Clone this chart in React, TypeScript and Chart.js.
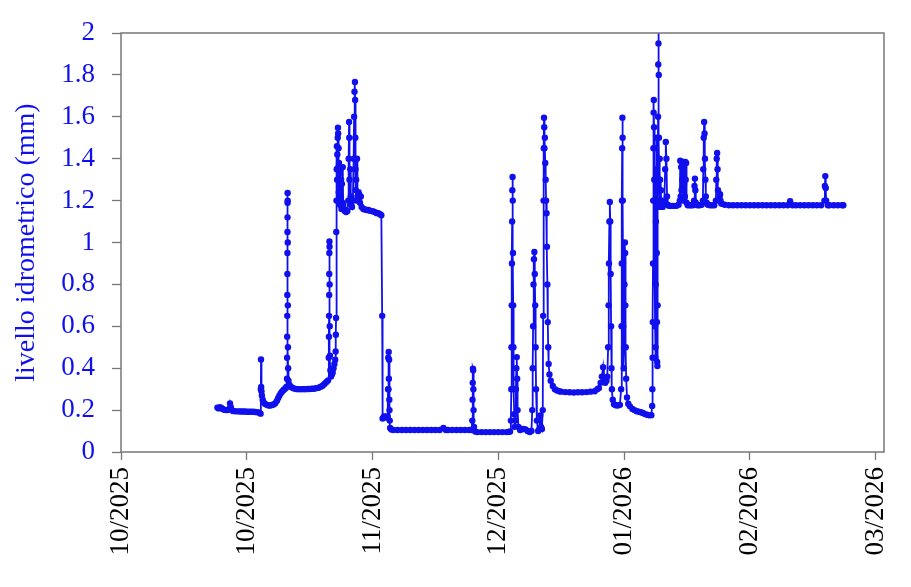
import { Chart, registerables } from "chart.js"
import React, { useEffect, useRef } from "react"

Chart.register(...registerables)

// days counted from 1 Oct 2025
const tickDays = [0, 30, 60, 90, 120, 150, 180]
const tickLabels = ["10/2025", "10/2025", "11/2025", "12/2025", "01/2026", "02/2026", "03/2026"]
const levelTicks = [0, 0.2, 0.4, 0.6, 0.8, 1, 1.2, 1.4, 1.6, 1.8, 2]

// [day, livello mm]
const octoberReadings: [number, number][] = [
  [23.0, 0.212], [23.3, 0.208], [23.6, 0.214], [23.9, 0.21], [24.2, 0.207], [24.6, 0.202],
  [25.0, 0.2], [25.4, 0.2], [25.8, 0.206], [26.0, 0.232], [26.2, 0.214], [26.5, 0.198],
  [27.0, 0.195], [27.5, 0.194], [28.0, 0.194], [28.5, 0.193], [29.0, 0.193], [29.5, 0.193],
  [30.0, 0.192], [30.5, 0.192],
]

const novemberReadings: [number, number][] = [
  [31.0, 0.192], [31.5, 0.192], [32.0, 0.191], [32.5, 0.19], [33.0, 0.188], [33.3, 0.183],
  [33.36, 0.3], [33.4, 0.442], [33.44, 0.31], [33.5, 0.29], [33.6, 0.27], [33.8, 0.25],
  [34.0, 0.238], [34.4, 0.229], [34.8, 0.225], [35.2, 0.222], [35.6, 0.222], [36.0, 0.224],
  [36.4, 0.227], [36.8, 0.233], [37.2, 0.245], [37.5, 0.258], [37.8, 0.27], [38.1, 0.28],
  [38.4, 0.288], [38.7, 0.295], [39.0, 0.3], [39.3, 0.306], [39.5, 0.312], [39.6, 0.35],
  [39.62, 0.45], [39.64, 0.55], [39.66, 0.65], [39.68, 0.75], [39.69, 0.85], [39.7, 0.95],
  [39.71, 1.05], [39.72, 1.12], [39.73, 1.19], [39.74, 1.236], [39.76, 1.2], [39.78, 1.0],
  [39.8, 0.7], [39.83, 0.5], [39.87, 0.4], [39.95, 0.34], [40.2, 0.32], [40.6, 0.31],
  [41.0, 0.305], [41.5, 0.302], [42.0, 0.3], [42.5, 0.3], [43.0, 0.3], [43.5, 0.3],
  [44.0, 0.3], [44.5, 0.301], [45.0, 0.301], [45.5, 0.302], [46.0, 0.302], [46.5, 0.304],
  [47.0, 0.306], [47.5, 0.31], [48.0, 0.315], [48.4, 0.322], [48.8, 0.33], [49.1, 0.336],
  [49.4, 0.342], [49.55, 0.45], [49.6, 0.55], [49.63, 0.65], [49.66, 0.75], [49.68, 0.85],
  [49.7, 0.95], [49.72, 1.005], [49.74, 0.98], [49.77, 0.8], [49.8, 0.6], [49.85, 0.46],
  [49.95, 0.39], [50.1, 0.36], [50.3, 0.37], [50.5, 0.38], [50.7, 0.4], [50.9, 0.42],
  [51.1, 0.44], [51.2, 0.48], [51.25, 0.56], [51.3, 0.64], [51.35, 1.05], [51.4, 1.2],
  [51.45, 1.35], [51.5, 1.46], [51.55, 1.3], [51.6, 1.42], [51.65, 1.2], [51.7, 1.5],
  [51.75, 1.548], [51.8, 1.52], [51.85, 1.36], [51.9, 1.45], [51.95, 1.24], [52.0, 1.38],
  [52.05, 1.2], [52.1, 1.33], [52.2, 1.18], [52.3, 1.35], [52.4, 1.21], [52.5, 1.3],
  [52.6, 1.16], [52.7, 1.28], [52.8, 1.19], [52.9, 1.36], [53.0, 1.18], [53.2, 1.16],
  [53.4, 1.15], [53.7, 1.145], [54.0, 1.15], [54.2, 1.2], [54.3, 1.4], [54.4, 1.575],
  [54.45, 1.5], [54.5, 1.3], [54.6, 1.2], [54.7, 1.35], [54.8, 1.22], [54.9, 1.18],
  [55.1, 1.17], [55.3, 1.2], [55.5, 1.4], [55.6, 1.6], [55.7, 1.72], [55.8, 1.766],
  [55.85, 1.68], [55.9, 1.5], [55.95, 1.35], [56.0, 1.25], [56.1, 1.3], [56.2, 1.2],
  [56.3, 1.4], [56.4, 1.22], [56.6, 1.24], [56.8, 1.23], [57.0, 1.19], [57.2, 1.22],
  [57.4, 1.17], [57.8, 1.16], [58.2, 1.158], [58.6, 1.155], [59.0, 1.155], [59.4, 1.152],
  [59.8, 1.15], [60.2, 1.148], [60.6, 1.145],
]

const decemberReadings: [number, number][] = [
  [61.0, 1.14], [61.4, 1.14], [61.8, 1.135], [62.1, 1.13], [62.3, 0.65], [62.4, 0.16],
  [62.6, 0.165], [62.8, 0.17], [63.0, 0.168], [63.3, 0.165], [63.6, 0.17], [63.7, 0.3],
  [63.75, 0.45], [63.8, 0.3], [63.85, 0.477], [63.9, 0.35], [63.95, 0.44], [64.0, 0.25],
  [64.05, 0.2], [64.1, 0.15], [64.2, 0.115], [64.5, 0.107], [65, 0.105], [66, 0.105],
  [67, 0.105], [68, 0.105], [69, 0.105], [70, 0.105], [71, 0.105], [72, 0.105],
  [73, 0.105], [74, 0.105], [75, 0.105], [76, 0.105], [76.9, 0.115], [77.5, 0.105],
  [78, 0.105], [79, 0.105], [80, 0.105], [81, 0.105], [82, 0.105], [83, 0.105],
  [83.6, 0.105], [83.8, 0.15], [83.85, 0.25], [83.9, 0.33], [83.95, 0.398], [84.0, 0.39],
  [84.05, 0.3], [84.1, 0.2], [84.2, 0.12], [84.5, 0.098], [85, 0.095], [86, 0.095],
  [87, 0.095], [88, 0.095], [89, 0.095], [90, 0.095], [91, 0.095],
]

const januaryReadings: [number, number][] = [
  [92.0, 0.095], [92.5, 0.096], [92.8, 0.098], [93.0, 0.15], [93.1, 0.3], [93.15, 0.5],
  [93.2, 0.7], [93.25, 0.9], [93.3, 1.1], [93.35, 1.25], [93.4, 1.313], [93.45, 1.2],
  [93.5, 0.95], [93.55, 0.7], [93.6, 0.5], [93.7, 0.3], [93.8, 0.18], [93.9, 0.12],
  [94.1, 0.15], [94.2, 0.3], [94.3, 0.4], [94.4, 0.453], [94.5, 0.35], [94.6, 0.2],
  [94.8, 0.12], [95.2, 0.105], [95.6, 0.11], [96.0, 0.11], [96.5, 0.108], [97.0, 0.1],
  [97.5, 0.095], [97.9, 0.1], [98.1, 0.2], [98.2, 0.4], [98.3, 0.6], [98.4, 0.8],
  [98.5, 0.92], [98.6, 0.955], [98.7, 0.85], [98.8, 0.7], [98.9, 0.5], [99.0, 0.3],
  [99.2, 0.15], [99.5, 0.1], [99.8, 0.11], [100.0, 0.175], [100.2, 0.12], [100.4, 0.11],
  [100.6, 0.2], [100.7, 0.65], [100.8, 1.2], [100.85, 1.45], [100.9, 1.596], [100.95, 1.55],
  [101.0, 1.45], [101.1, 1.5], [101.2, 1.38], [101.3, 1.3], [101.4, 1.2], [101.5, 1.14],
  [101.6, 0.98], [101.7, 0.8], [101.8, 0.62], [101.9, 0.5], [102.0, 0.42], [102.2, 0.37],
  [102.5, 0.34], [103.0, 0.315], [103.5, 0.3], [104.0, 0.294], [104.5, 0.29], [105, 0.288],
  [106, 0.286], [107, 0.285], [108, 0.284], [109, 0.285], [110, 0.285], [111, 0.286],
  [112, 0.288], [113, 0.29], [113.6, 0.3], [114.0, 0.305], [114.4, 0.33], [114.7, 0.36],
  [115.0, 0.405], [115.2, 0.35], [115.5, 0.33], [115.8, 0.34], [116.0, 0.36], [116.2, 0.5],
  [116.3, 0.7], [116.4, 0.9], [116.5, 1.1], [116.6, 1.193], [116.7, 1.1], [116.8, 0.85],
  [116.9, 0.6], [117.0, 0.4], [117.1, 0.3], [117.3, 0.25], [117.6, 0.228], [118.0, 0.223],
  [118.5, 0.222], [119.0, 0.225], [119.3, 0.3], [119.4, 0.6], [119.45, 0.9], [119.5, 1.2],
  [119.55, 1.45], [119.6, 1.596], [119.65, 1.5], [119.7, 1.2], [119.75, 0.9], [119.8, 0.6],
  [119.9, 0.4], [120.0, 0.5], [120.1, 0.8], [120.2, 1.0], [120.25, 0.95], [120.3, 0.7],
  [120.4, 0.5], [120.5, 0.35], [120.7, 0.26], [121.0, 0.23], [121.4, 0.218], [122.0, 0.205],
  [122.5, 0.2],
]

const februaryReadings: [number, number][] = [
  [123.0, 0.195], [123.5, 0.192], [124.0, 0.19], [124.5, 0.186], [125.0, 0.181], [125.5, 0.178],
  [126.0, 0.175], [126.5, 0.176], [126.7, 0.22], [126.75, 0.3], [126.8, 0.45], [126.85, 0.62],
  [126.9, 0.9], [126.95, 1.2], [127.0, 1.45], [127.05, 1.62], [127.1, 1.68], [127.15, 1.55],
  [127.2, 1.3], [127.25, 1.45], [127.3, 1.2], [127.35, 0.9], [127.4, 0.6], [127.45, 0.45],
  [127.5, 0.5], [127.55, 0.8], [127.6, 1.1], [127.65, 1.35], [127.7, 1.5], [127.75, 1.25],
  [127.8, 0.95], [127.85, 0.62], [127.9, 0.43], [127.95, 0.41], [128.0, 0.7], [128.05, 1.2],
  [128.1, 1.6], [128.15, 1.85], [128.2, 1.95], [128.23, 2.08], [128.27, 1.8], [128.32, 1.5],
  [128.4, 1.3], [128.45, 1.25], [128.5, 1.4], [128.55, 1.17], [128.6, 1.3], [128.7, 1.2],
  [128.8, 1.25], [128.9, 1.18], [129.0, 1.2], [129.2, 1.17], [129.4, 1.18], [129.6, 1.2],
  [129.8, 1.35], [129.95, 1.48], [130.1, 1.4], [130.25, 1.22], [130.4, 1.18], [130.7, 1.175],
  [131.0, 1.175], [131.5, 1.175], [132.0, 1.175], [132.5, 1.175], [133.0, 1.18], [133.3, 1.2],
  [133.4, 1.39], [133.5, 1.22], [133.6, 1.36], [133.7, 1.25], [133.8, 1.385], [133.9, 1.3],
  [134.0, 1.38], [134.1, 1.2], [134.2, 1.385], [134.3, 1.28], [134.4, 1.38], [134.5, 1.22],
  [134.6, 1.385], [134.7, 1.3], [134.8, 1.38], [134.9, 1.19], [135.2, 1.178], [135.6, 1.178],
  [136.0, 1.178], [136.4, 1.178], [136.7, 1.2], [136.8, 1.27], [136.9, 1.305], [137.0, 1.25],
  [137.1, 1.19], [137.5, 1.178], [138.0, 1.178], [138.5, 1.18], [138.8, 1.2], [138.9, 1.35],
  [139.0, 1.5], [139.1, 1.575], [139.2, 1.52], [139.3, 1.4], [139.4, 1.3], [139.5, 1.22],
  [139.7, 1.19], [140.0, 1.18], [140.5, 1.178], [141.0, 1.178], [141.5, 1.178], [141.9, 1.2],
  [142.0, 1.3], [142.1, 1.4], [142.2, 1.427], [142.3, 1.35], [142.4, 1.25], [142.6, 1.2],
  [142.8, 1.22], [142.9, 1.23], [143.0, 1.2], [143.3, 1.185], [144, 1.18], [145, 1.178],
  [146, 1.178], [147, 1.178], [148, 1.178], [149, 1.178], [150, 1.178],
]

const marchReadings: [number, number][] = [
  [151, 1.178], [152, 1.178], [153, 1.178], [154, 1.178], [155, 1.178], [156, 1.178],
  [157, 1.178], [158, 1.178], [159, 1.178], [159.6, 1.197], [160.2, 1.178], [161, 1.178],
  [162, 1.178], [163, 1.178], [164, 1.178], [165, 1.178], [166, 1.178], [167, 1.178],
  [167.8, 1.2], [167.9, 1.27], [168.0, 1.317], [168.1, 1.26], [168.2, 1.2], [168.6, 1.178],
  [169, 1.178], [170, 1.178], [171, 1.178], [172, 1.178], [172.3, 1.178],
]

const BLUE = "#1010ee"
const FRAME = "#777777"
const SERIF = "'Times New Roman', 'Liberation Serif', serif"

const framePlugin = {
  id: "frame",
  afterDatasetsDraw(chart: Chart) {
    const { ctx, chartArea } = chart
    ctx.save()
    ctx.strokeStyle = FRAME
    ctx.lineWidth = 1.5
    ctx.strokeRect(chartArea.left, chartArea.top, chartArea.right - chartArea.left, chartArea.bottom - chartArea.top)
    ctx.restore()
  },
}

const LevelChart: React.FC = () => {
  const chartRef = useRef<HTMLCanvasElement>(null)
  const chartInstanceRef = useRef<Chart | null>(null)

  useEffect(() => {
    const ctx = chartRef.current?.getContext("2d")
    if (!ctx) return

    const readings = [
      ...octoberReadings,
      ...novemberReadings,
      ...decemberReadings,
      ...januaryReadings,
      ...februaryReadings,
      ...marchReadings,
    ]

    chartInstanceRef.current = new Chart(ctx, {
      type: "scatter",
      data: {
        datasets: [
          {
            label: "livello idrometrico",
            data: readings.map(([x, y]) => ({ x, y })),
            showLine: true,
            borderColor: BLUE,
            backgroundColor: BLUE,
            borderWidth: 1.8,
            pointRadius: 3.2,
            pointBorderWidth: 0,
            clip: { left: 5, right: 5, top: 0, bottom: 5 },
          },
        ],
      },
      options: {
        animation: false,
        responsive: true,
        maintainAspectRatio: false,
        layout: { padding: { top: 33, right: 27, left: 0, bottom: 0 } },
        plugins: {
          legend: { display: false },
          tooltip: { enabled: false },
        },
        scales: {
          x: {
            type: "linear",
            min: 0,
            max: 182,
            afterBuildTicks: (scale) => {
              scale.ticks = tickDays.map((value) => ({ value }))
            },
            afterFit: (scale) => {
              scale.height = 135
              scale.paddingLeft = 0
              scale.paddingRight = 0
            },
            border: { display: false },
            grid: {
              drawOnChartArea: false,
              drawTicks: true,
              tickLength: 8,
              tickColor: FRAME,
              tickWidth: 1.3,
            },
            ticks: {
              autoSkip: false,
              minRotation: 90,
              maxRotation: 90,
              padding: 7,
              color: "#000000",
              font: { family: SERIF, size: 27 },
              callback: (value) => {
                const i = tickDays.indexOf(Number(value))
                return i >= 0 ? tickLabels[i] : ""
              },
            },
          },
          y: {
            min: 0,
            max: 2,
            afterBuildTicks: (scale) => {
              scale.ticks = levelTicks.map((value) => ({ value }))
            },
            afterFit: (scale) => {
              scale.width = 121
              scale.paddingTop = 0
              scale.paddingBottom = 0
            },
            border: { display: false },
            grid: {
              drawOnChartArea: false,
              drawTicks: true,
              tickLength: 9,
              tickColor: FRAME,
              tickWidth: 1.3,
            },
            ticks: {
              padding: 17,
              color: BLUE,
              font: { family: SERIF, size: 27 },
              callback: (value) => String(Number(Number(value).toFixed(1))),
            },
            title: {
              display: true,
              text: "livello idrometrico (mm)",
              color: BLUE,
              font: { family: SERIF, size: 28 },
              padding: { top: 10, bottom: 0 },
            },
          },
        },
      },
      plugins: [framePlugin],
    })

    return () => {
      chartInstanceRef.current?.destroy()
    }
  }, [])

  return (
    <div style={{ position: "fixed", left: 0, top: 0, width: 911, height: 587, background: "#ffffff" }}>
      <canvas ref={chartRef} />
    </div>
  )
}

export default function App() {
  return <LevelChart />
}
